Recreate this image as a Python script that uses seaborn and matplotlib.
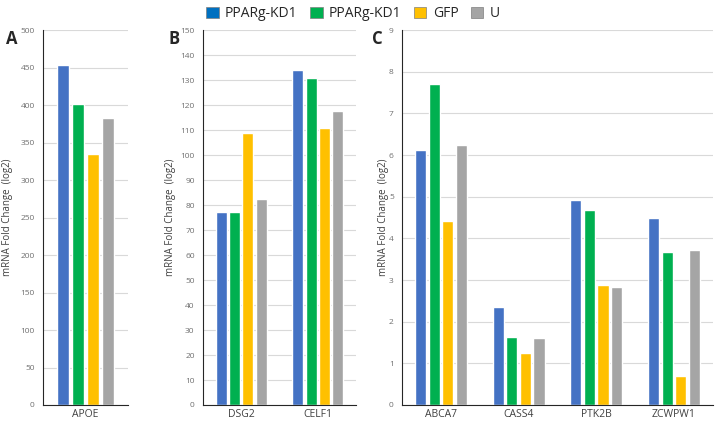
import matplotlib
matplotlib.use("Agg")
import matplotlib.pyplot as plt
import numpy as np
import pandas as pd
import seaborn as sns
from matplotlib.patches import Patch

# ---------DATA---------
groups = ["PPARg-KD1", "PPARg-KD1 ", "GFP", "U"]
legend_labels = ["PPARg-KD1", "PPARg-KD1", "GFP", "U"]
colors = ["#4472C4", "#00B050", "#FFC000", "#A5A5A5"]
legend_colors = ["#0070C0", "#00B050", "#FFC000", "#A5A5A5"]

genes_a = ["APOE"]
values_a = [[453], [402], [335], [383]]

genes_b = ["DSG2", "CELF1"]
values_b = [[77.1, 134.0], [77.2, 130.9], [109.0, 110.9], [82.4, 117.5]]

genes_c = ["ABCA7", "CASS4", "PTK2B", "ZCWPW1"]
values_c = [[6.12, 2.36, 4.93, 4.50],
            [7.71, 1.64, 4.68, 3.67],
            [4.42, 1.24, 2.88, 0.69],
            [6.24, 1.61, 2.84, 3.72]]


def to_frame(genes, values):
    rows = []
    for g, vals in zip(groups, values):
        for gene, v in zip(genes, vals):
            rows.append({"gene": gene, "group": g, "value": v})
    return pd.DataFrame(rows)


sns.set_style("white")
plt.rcParams['font.family'] = ['Open Sans', 'DejaVu Sans']

fig = plt.figure(figsize=(7.16, 4.26), dpi=100)

panels = [
    ("A", genes_a, values_a, 500, 50, [0.060, 0.0493, 0.119, 0.880], 0.011, 0.008),
    ("B", genes_b, values_b, 150, 10, [0.2835, 0.0493, 0.2137, 0.880], 0.238, 0.236),
    ("C", genes_c, values_c, 9, 1, [0.5615, 0.0493, 0.434, 0.880], 0.535, 0.519),
]

for letter, genes, values, ymax, step, rect, ylab_x, letter_x in panels:
    ax = fig.add_axes(rect)
    df = to_frame(genes, values)
    sns.barplot(data=df, x="gene", y="value", hue="group", hue_order=groups,
                palette=colors, width=0.7, gap=0.18, saturation=1, ax=ax, legend=False)
    ax.set_ylim(0, ymax)
    ax.set_yticks(np.arange(0, ymax + step / 2, step))
    ax.yaxis.grid(True, color="#D9D9D9", linewidth=0.8)
    ax.set_axisbelow(True)
    for s in ["top", "right"]:
        ax.spines[s].set_visible(False)
    ax.spines["left"].set_color("#262626")
    ax.spines["bottom"].set_color("#262626")
    ax.tick_params(axis="y", labelsize=6, colors="#6F6F6F", length=0, pad=6)
    ax.tick_params(axis="x", labelsize=7.5, colors="#404040", length=0, pad=3)
    ax.set_xlabel("")
    ax.set_ylabel("")
    fig.text(ylab_x, 0.49, "mRNA Fold Change  (log2)", rotation=90, fontsize=7,
             color="#404040", ha="center", va="center")
    fig.text(letter_x, 0.908, letter, fontsize=12, fontweight="bold", ha="left", va="center")

handles = [Patch(facecolor=c, edgecolor="#7F7F7F", linewidth=0.5) for c in legend_colors]
fig.legend(handles, legend_labels, loc="center", bbox_to_anchor=(0.493, 0.968), ncol=4,
           frameon=False, fontsize=10, handlelength=0.9, handleheight=0.9,
           handletextpad=0.45, columnspacing=0.9, borderaxespad=0)

fig.savefig("out.png", dpi=100)
